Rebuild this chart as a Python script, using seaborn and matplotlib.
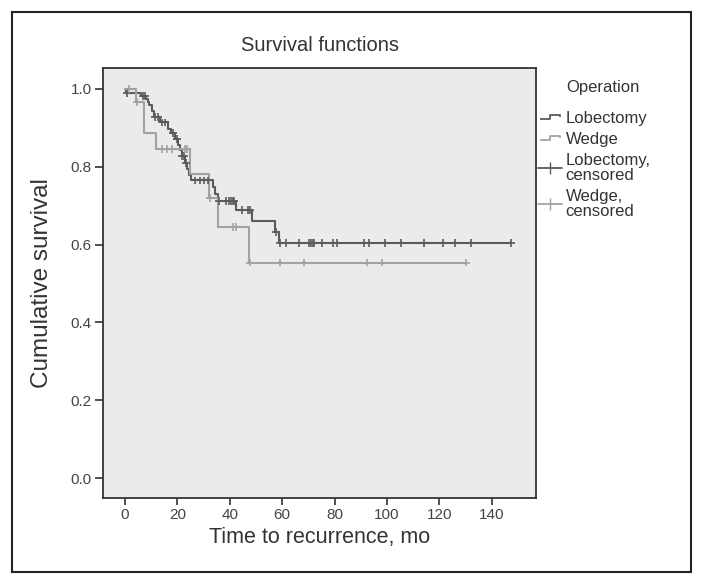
import numpy as np
import pandas as pd
import seaborn as sns
import matplotlib.pyplot as plt
from matplotlib.lines import Line2D
from matplotlib.patches import Rectangle
from matplotlib.path import Path

# Kaplan-Meier step values
lob_times = [0, 0.3, 6.0, 8.0, 8.6, 9.3, 10.2, 11.2, 13.4, 16.3, 17.5, 19.1, 20.3, 21.0,
             21.6, 22.9, 23.6, 24.4, 25.2, 33.5, 34.4, 35.6, 42.4, 48.6, 57.3, 58.9, 147.2]
lob_surv = [1.0, 0.99, 0.982, 0.975, 0.967, 0.958, 0.944, 0.928, 0.914, 0.898, 0.886, 0.872,
            0.857, 0.843, 0.828, 0.81, 0.795, 0.779, 0.765, 0.748, 0.73, 0.712, 0.688, 0.661,
            0.632, 0.605, 0.605]
lob_censored = [0.6, 7.0, 7.8, 11.6, 12.5, 14.0, 15.3, 18.4, 19.7, 21.9, 22.4, 23.3, 26.7,
                28.8, 30.3, 31.5, 35.8, 38.5, 39.8, 40.5, 41.1, 41.7, 44.5, 47.1, 47.7, 57.8,
                59.2, 61.5, 66.4, 70.2, 70.9, 71.6, 72.2, 75.3, 79.4, 81.0, 91.3, 93.2, 99.4,
                105.2, 114.2, 121.3, 126.1, 132.2, 147.2]

wedge_times = [0, 4.2, 7.2, 12.0, 24.8, 32.2, 35.4, 47.5, 130.2]
wedge_surv = [1.0, 0.966, 0.886, 0.846, 0.781, 0.72, 0.646, 0.554, 0.554]
wedge_censored = [1.5, 4.7, 14.0, 16.0, 17.8, 22.9, 23.8, 32.6, 41.3, 42.2, 47.7, 59.2,
                  68.3, 92.2, 98.2, 130.2]

groups = ["Lobectomy", "Wedge"]
colors = {"Lobectomy": "#5b5b5b", "Wedge": "#a2a2a2"}


def censor_y(times, surv, cens):
    idx = np.searchsorted(times, cens, side="right") - 1
    return np.asarray(surv)[idx]


steps = pd.concat([
    pd.DataFrame({"time": lob_times, "surv": lob_surv, "group": "Lobectomy"}),
    pd.DataFrame({"time": wedge_times, "surv": wedge_surv, "group": "Wedge"}),
], ignore_index=True)
marks = pd.concat([
    pd.DataFrame({"time": lob_censored, "surv": censor_y(lob_times, lob_surv, lob_censored),
                  "group": "Lobectomy"}),
    pd.DataFrame({"time": wedge_censored, "surv": censor_y(wedge_times, wedge_surv, wedge_censored),
                  "group": "Wedge"}),
], ignore_index=True)

sns.set_style("ticks")
plt.rcParams["font.family"] = ["Liberation Sans", "DejaVu Sans"]

fig = plt.figure(figsize=(7.04, 5.85), dpi=100)
ax = fig.add_axes([0.1463, 0.1487, 0.6151, 0.7351])
ax.set_facecolor("#eaeceb")

sns.lineplot(data=steps, x="time", y="surv", hue="group", hue_order=groups, palette=colors,
             drawstyle="steps-post", estimator=None, sort=False, linewidth=1.5, legend=False, ax=ax)
sns.scatterplot(data=marks, x="time", y="surv", hue="group", hue_order=groups, palette=colors,
                marker="+", s=32, linewidth=1.2, legend=False, ax=ax, zorder=3)

ax.set_xlim(-8.4, 156.9)
ax.set_ylim(-0.051, 1.054)
ax.set_xticks(np.arange(0, 141, 20))
ax.set_yticks(np.arange(0, 1.01, 0.2))
ax.set_yticklabels([f"{v:.1f}" for v in np.arange(0, 1.01, 0.2)])
ax.tick_params(direction="out", length=5, width=1.2, colors="#333333", labelsize=11,
               labelcolor="#444444", pad=2)
ax.tick_params(axis="y", length=6)
for sp in ax.spines.values():
    sp.set_color("#333333")
    sp.set_linewidth(1.3)

ax.set_title("Survival functions", fontsize=14.5, color="#333333", pad=12)
ax.set_xlabel("Time to recurrence, mo", fontsize=15.5, color="#333333", labelpad=4)
ax.set_ylabel("Cumulative survival", fontsize=17.5, color="#333333", labelpad=13)

# legend with step glyphs and censor glyphs
step_path = Path([(-1, -0.2), (0, -0.2), (0, 0.2), (1, 0.2), (1, 0.0)])
handles = [
    Line2D([], [], color=colors["Lobectomy"], marker=step_path, linestyle="None",
           markersize=15, markerfacecolor="none", markeredgewidth=1.3),
    Line2D([], [], color=colors["Wedge"], marker=step_path, linestyle="None",
           markersize=15, markerfacecolor="none", markeredgewidth=1.3),
    Line2D([], [], color=colors["Lobectomy"], marker="|", markersize=9, linewidth=1.3),
    Line2D([], [], color=colors["Wedge"], marker="|", markersize=9, linewidth=1.3),
]
labels = ["Lobectomy", "Wedge", "Lobectomy,\ncensored", "Wedge,\ncensored"]
leg = fig.legend(handles, labels, loc="upper left", bbox_to_anchor=(0.755, 0.822),
                 frameon=False, fontsize=12, labelspacing=0.38, handlelength=1.4,
                 handletextpad=0.25, borderaxespad=0)
for t in leg.get_texts():
    t.set_color("#333333")
    t.set_linespacing(0.95)
fig.text(0.805, 0.851, "Operation", fontsize=12, color="#333333", va="center", ha="left")

fig.add_artist(Rectangle((12 / 704, 1 - 572 / 585), 679 / 704, 560 / 585,
                         transform=fig.transFigure, fill=False, lw=1.5, ec="#222222"))

fig.savefig("out.png", dpi=100)
